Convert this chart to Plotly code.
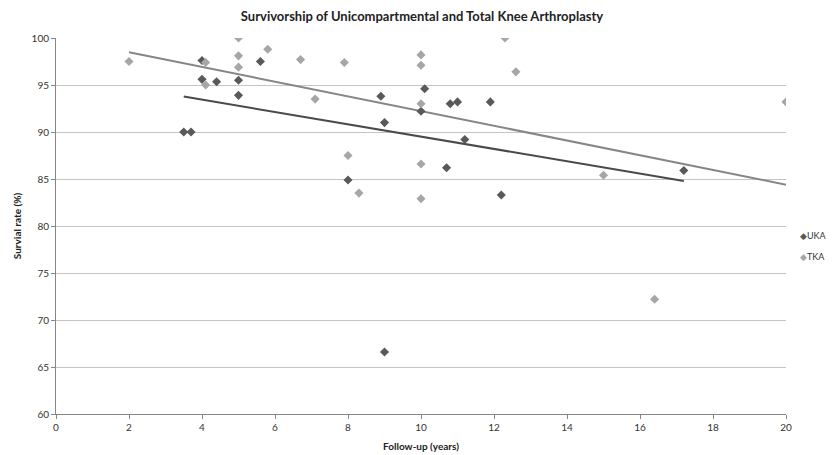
import numpy as np
import plotly.graph_objects as go

# UKA studies: follow-up (years) vs survival rate (%)
uka_years = [4.0, 4.0, 4.4, 5.0, 5.0, 5.6, 3.5, 3.7, 8.9, 10.1, 9.0, 10.0, 10.8, 11.0,
             11.9, 11.2, 10.7, 8.0, 12.2, 17.2, 9.0]
uka_rate = [97.6, 95.6, 95.35, 95.5, 93.9, 97.5, 90.0, 90.0, 93.8, 94.6, 91.0, 92.2, 93.0, 93.2,
            93.2, 89.2, 86.2, 84.9, 83.3, 85.9, 66.6]

# TKA studies
tka_years = [2.0, 4.1, 4.1, 5.0, 5.0, 5.0, 5.8, 6.7, 7.1, 7.9, 10.0, 10.0, 10.0, 12.3,
             12.6, 8.0, 10.0, 8.3, 10.0, 15.0, 20.0, 16.4]
tka_rate = [97.5, 97.4, 95.0, 100.0, 98.1, 96.9, 98.8, 97.7, 93.5, 97.4, 98.2, 97.1, 93.0, 100.0,
            96.4, 87.5, 86.6, 83.5, 82.9, 85.4, 93.2, 72.2]

uka_color = "#595959"
tka_color = "#a6a6a6"

fig = go.Figure()

# linear trendlines, like excel
def trend(xs, ys):
    k, b = np.polyfit(xs, ys, 1)
    xr = np.array([min(xs), max(xs)])
    return xr, k * xr + b

tx, ty = trend(uka_years, uka_rate)
fig.add_trace(go.Scatter(x=tx, y=ty, mode="lines", line=dict(color="#4a4a4a", width=2),
                         showlegend=False, hoverinfo="skip"))
tx, ty = trend(tka_years, tka_rate)
fig.add_trace(go.Scatter(x=tx, y=ty, mode="lines", line=dict(color="#868686", width=2),
                         showlegend=False, hoverinfo="skip"))

fig.add_trace(go.Scatter(x=uka_years, y=uka_rate, mode="markers", name="UKA",
                         marker=dict(symbol="diamond", size=7, color=uka_color)))
fig.add_trace(go.Scatter(x=tka_years, y=tka_rate, mode="markers", name="TKA",
                         marker=dict(symbol="diamond", size=7, color=tka_color)))

# legend drawn as text, the excel one sits tight against the marker
fig.add_annotation(x=1.016, y=0.476, xref="paper", yref="paper", xanchor="left",
                   showarrow=False, font=dict(size=9, color="#333333"),
                   text=f"<span style='color:{uka_color}'>◆</span>UKA")
fig.add_annotation(x=1.016, y=0.418, xref="paper", yref="paper", xanchor="left",
                   showarrow=False, font=dict(size=9, color="#333333"),
                   text=f"<span style='color:{tka_color}'>◆</span>TKA")

# page body has an 8px margin, so shrink figure to keep plot area in place
fig.update_layout(
    width=828, height=447,
    margin=dict(l=48, r=50, t=30, b=41),
    showlegend=False,
    paper_bgcolor="white", plot_bgcolor="white",
    font=dict(family="Lato, Liberation Sans, sans-serif", size=10, color="#333333"),
    title=dict(text="<b>Survivorship of Unicompartmental and Total Knee Arthroplasty</b>",
               x=0.5, xanchor="center", y=0.98, yanchor="middle",
               font=dict(size=13, color="#222222")),
    xaxis=dict(range=[0, 20], dtick=2, showgrid=False, zeroline=False, automargin=False,
               showline=True, linecolor="#868686", linewidth=1,
               ticks="outside", ticklen=4, tickcolor="#868686",
               title=dict(text="<b>Follow-up (years)</b>", standoff=10,
                          font=dict(size=10, color="#222222"))),
    yaxis=dict(range=[60, 100], dtick=5, showgrid=True, gridcolor="#c4c4c4", gridwidth=1,
               zeroline=False, showline=True, linecolor="#868686", linewidth=1, automargin=False,
               ticks="outside", ticklen=4, tickcolor="#868686",
               title=dict(text="<b>Survial rate (%)</b>", standoff=8,
                          font=dict(size=10, color="#222222"))),
)

fig.write_html("out.html")
